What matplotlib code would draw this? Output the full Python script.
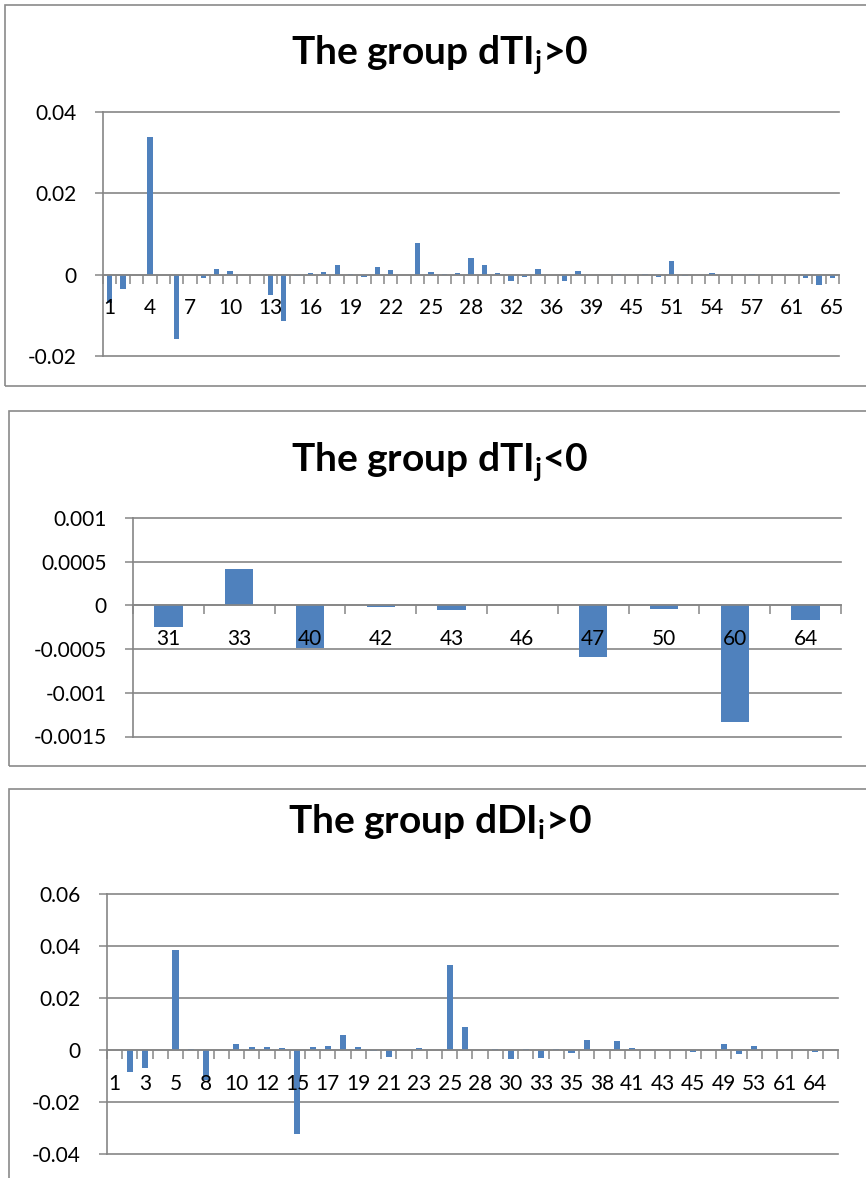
import numpy as np
import matplotlib
matplotlib.use("Agg")
import matplotlib.pyplot as plt
from matplotlib.patches import Rectangle

plt.rcParams['font.family'] = ['Lato', 'DejaVu Sans']
plt.rcParams['mathtext.fontset'] = 'custom'
plt.rcParams['mathtext.rm'] = 'Lato'
plt.rcParams['mathtext.bf'] = 'Lato:bold'
plt.rcParams['mathtext.it'] = 'Lato:italic'

# ---------------- data ----------------
cats1 = list(range(1, 31)) + [32, 34, 35, 36, 37, 38, 39, 41, 44, 45, 48, 49, 51, 52,
                              53, 54, 55, 56, 57, 58, 59, 61, 62, 63, 65]
vals1 = [-0.0070, -0.0035, 0.0, 0.0339, 0.0, -0.0159, 0.0, -0.0008, 0.0015, 0.0009,
         0.0, 0.0, -0.0051, -0.0114, -0.0003, 0.0005, 0.0007, 0.0024, 0.0001, -0.0006,
         0.0018, 0.0012, 0.0, 0.0077, 0.0006, 0.0001, 0.0005, 0.0040, 0.0024, 0.0005,
         -0.0015, -0.0005, 0.0014, 0.0, -0.0016, 0.0008, 0.0, 0.0, 0.0001, 0.0,
         0.0001, -0.0005, 0.0033, -0.0004, 0.0, 0.0003, 0.0, 0.0, 0.0001, 0.0,
         0.0, 0.0, -0.0009, -0.0026, -0.0007]
yticks1 = [0.04, 0.02, 0.0, -0.02]
ylabels1 = ["0.04", "0.02", "0", "-0.02"]

cats2 = [31, 33, 40, 42, 43, 46, 47, 50, 60, 64]
vals2 = [-0.00025, 0.000417, -0.00049, -0.00002, -0.000053, 0.0, -0.000595,
         -0.00004, -0.001337, -0.000163]
yticks2 = [0.001, 0.0005, 0.0, -0.0005, -0.001, -0.0015]
ylabels2 = ["0.001", "0.0005", "0", "-0.0005", "-0.001", "-0.0015"]

cats3 = [1, 2, 3, 4, 5, 6, 8, 9, 10, 11, 12, 13, 15, 16, 17, 18, 19, 20, 21, 22, 23, 24,
         25, 26, 28, 29, 30, 31, 33, 34, 35, 36, 38, 39, 41, 42, 43, 44, 45, 47, 49, 51,
         53, 57, 61, 62, 64, 65]
vals3 = [0.0, -0.0083, -0.0070, 0.0, 0.0383, 0.0005, -0.0115, 0.0, 0.0022, 0.0013,
         0.0013, 0.0008, -0.0322, 0.0010, 0.0014, 0.0056, 0.0013, -0.0003, -0.0026, 0.0,
         0.0006, 0.0, 0.0326, 0.0087, 0.0, 0.0002, -0.0034, 0.0004, -0.0032, 0.0004,
         -0.0010, 0.0037, 0.0, 0.0035, 0.0006, 0.0, 0.0, 0.0, -0.0009, -0.0001,
         0.0023, -0.0017, 0.0017, 0.0, 0.0, 0.0, -0.0008, 0.0]
yticks3 = [0.06, 0.04, 0.02, 0.0, -0.02, -0.04]
ylabels3 = ["0.06", "0.04", "0.02", "0", "-0.02", "-0.04"]

titles = [r"The group dTI$_\mathbf{j}$>0", r"The group dTI$_\mathbf{j}$<0",
          r"The group dDI$_\mathbf{i}$>0"]

# ---------------- layout ----------------
W, H = 866, 1178
fig = plt.figure(figsize=(W / 100, H / 100), dpi=100)
GRAY = '#868686'
BLUE = '#4F81BD'


def frac(l, t, r, b):
    return [l / W, 1 - b / H, (r - l) / W, (b - t) / H]


def panel(box, axrect, title, title_y, cats, vals, yticks, ylabels, step, xpad):
    l, t, r, b = box
    fig.patches.append(Rectangle((l / W, 1 - b / H), (r - l) / W, (b - t) / H,
                                 transform=fig.transFigure, fill=False,
                                 edgecolor='#8a8a8a', lw=1.2))
    fig.text(440 / W, 1 - title_y / H, title, ha='center', va='baseline',
             fontsize=28, fontweight='bold', color='black')
    ax = fig.add_axes(frac(*axrect))
    ax.set_axisbelow(False)
    x = np.arange(len(cats))
    ax.bar(x, vals, width=0.4, color=BLUE, zorder=2)
    ax.set_xlim(-0.5, len(cats) - 0.5)
    ax.set_ylim(min(yticks), max(yticks))
    for yv in yticks:
        ax.axhline(yv, color=GRAY, lw=1.2, zorder=1, clip_on=False)
    ax.set_yticks(yticks, ylabels)
    ax.tick_params(axis='y', length=6, width=1.1, color=GRAY, pad=13,
                   labelsize=15, direction='out')
    ax.set_xticks(x[::step], [str(c) for c in cats[::step]])
    ax.set_xticks(np.arange(len(cats) + 1) - 0.5, minor=True)
    ax.tick_params(axis='x', which='major', length=0, pad=xpad, labelsize=15)
    ax.tick_params(axis='x', which='minor', length=6.5, width=1.1, color=GRAY,
                   direction='out')
    for s in ['top', 'right']:
        ax.spines[s].set_visible(False)
    ax.spines['bottom'].set_position(('data', 0))
    ax.spines['bottom'].set_color(GRAY)
    ax.spines['bottom'].set_linewidth(1.2)
    ax.spines['left'].set_color(GRAY)
    ax.spines['left'].set_linewidth(1.2)
    ax.set_facecolor('none')
    return ax


panel((5, 5, 875, 385.5), (103, 112, 839, 356), titles[0], 64,
      cats1, vals1, yticks1, ylabels1, 3, 17)
panel((9, 410.5, 875, 766), (133, 518, 841, 736.5), titles[1], 471,
      cats2, vals2, yticks2, ylabels2, 1, 17)
panel((9, 789, 875, 1190), (107, 894, 838, 1154), titles[2], 833,
      cats3, vals3, yticks3, ylabels3, 2, 17)

fig.savefig("out.png", dpi=100, facecolor='white')
